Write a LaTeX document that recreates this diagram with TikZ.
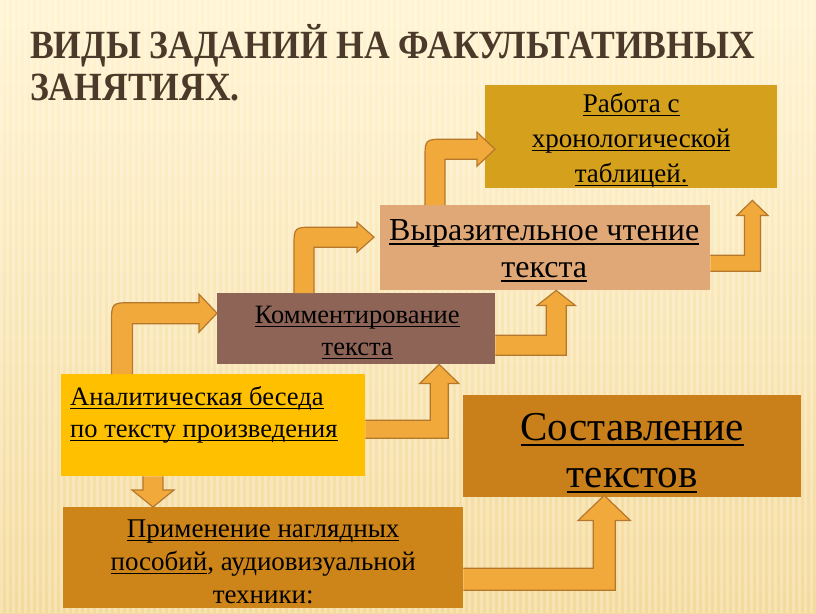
\documentclass[tikz,border=0pt]{standalone}
\usepackage{fontspec}
\setmainfont{Liberation Serif}
\newfontfamily\titlefont[FakeStretch=0.89]{Liberation Serif}
\usetikzlibrary{calc}

\definecolor{bgtop}{HTML}{FFF4D2}
\definecolor{bgbot}{HTML}{F4DA9C}
\definecolor{titlecol}{HTML}{4B3A2A}
\definecolor{arrfill}{HTML}{F2A93B}
\definecolor{arrline}{HTML}{B5772C}
\definecolor{anacol}{HTML}{FFC000}
\definecolor{komcol}{HTML}{8E6457}
\definecolor{vyrcol}{HTML}{E1A877}
\definecolor{rabcol}{HTML}{D5A11C}
\definecolor{sostcol}{HTML}{C97F1A}
\definecolor{primcol}{HTML}{CD8419}

\newcommand\fsz[2]{\fontsize{#1}{#2}\selectfont}
\newcommand\uln[1]{\leavevmode\setbox0\hbox{#1}\rlap{\rule[-0.13em]{\wd0}{0.05em}}\box0}

% bent block arrow: up from #1, then right to the tip #2
\newcommand\uparrright[5]{%
\filldraw[blockarrow] let \p1=(#1), \p2=(#2) in
  ({\x1-#3},\y1) -- ({\x1-#3},{\y2-#3})
  .. controls ({\x1-#3},{\y2+#3}) .. ({\x1+#3},{\y2+#3})
  -- ({\x2-#5},{\y2+#3}) -- ({\x2-#5},{\y2+#4}) -- (\x2,\y2)
  -- ({\x2-#5},{\y2-#4}) -- ({\x2-#5},{\y2-#3})
  -- ({\x1+#3},{\y2-#3}) -- ({\x1+#3},\y1);
}
% right from #1, then up to the tip #2
\newcommand\rightarrup[5]{%
\filldraw[blockarrow] let \p1=(#1), \p2=(#2) in
  (\x1,{\y1+#3}) -- ({\x2-#3},{\y1+#3}) -- ({\x2-#3},{\y2-#5})
  -- ({\x2-#4},{\y2-#5}) -- (\x2,\y2) -- ({\x2+#4},{\y2-#5})
  -- ({\x2+#3},{\y2-#5}) -- ({\x2+#3},{\y1-#3}) -- (\x1,{\y1-#3});
}
% straight down from #1 to the tip #2
\newcommand\downarr[5]{%
\filldraw[blockarrow] let \p1=(#1), \p2=(#2) in
  ({\x1-#3},\y1) -- ({\x1-#3},{\y2+#5}) -- ({\x1-#4},{\y2+#5})
  -- (\x2,\y2) -- ({\x1+#4},{\y2+#5}) -- ({\x1+#3},{\y2+#5})
  -- ({\x1+#3},\y1);
}

\begin{document}
\begin{tikzpicture}[x=1pt,y=-1pt,
  box/.style={anchor=north west, inner sep=0pt},
  boxtext/.style={inner sep=0pt, align=center, text=black},
  titletext/.style={anchor=base west, inner sep=0pt, text=titlecol,
    font=\titlefont\bfseries\fsz{40}{40}},
  blockarrow/.style={fill=arrfill, draw=arrline, line width=1.2pt, line join=miter}]

	%% background
	\useasboundingbox (0,0) rectangle (816,613);
	\shade[top color=bgtop, bottom color=bgbot] (0,0) rectangle (816,613);
	\foreach \sx in {0,6,...,810}
		\fill[white, opacity=0.25] (\sx,0) rectangle ++(2.5,613);

	\node[titletext] (title1) at (30,58) {ВИДЫ ЗАДАНИЙ НА ФАКУЛЬТАТИВНЫХ};
	\node[titletext] (title2) at (30,100) {ЗАНЯТИЯХ.};

	%% boxes
	\node[box, fill=anacol, minimum width=304pt, minimum height=102pt] (ana) at (61,374) {};
	\node[box, fill=komcol, minimum width=278pt, minimum height=71pt] (kom) at (217,293) {};
	\node[box, fill=vyrcol, minimum width=330pt, minimum height=85pt] (vyr) at (380,205) {};
	\node[box, fill=rabcol, minimum width=292pt, minimum height=103pt] (rab) at (485,85) {};
	\node[box, fill=sostcol, minimum width=338pt, minimum height=102pt] (sost) at (463,395) {};
	\node[box, fill=primcol, minimum width=400pt, minimum height=101pt] (prim) at (63,507) {};

	%% texts
	\node[boxtext, anchor=west, align=left, font=\fsz{26.5}{32}] (anatext)
		at ($(ana.north west)+(9,41)$)
		{\uln{Аналитическая беседа}\\\uln{по тексту произведения}};
	\node[boxtext, font=\fsz{26.5}{32}] (komtext) at ($(kom.center)+(1,4)$)
		{\uln{Комментирование}\\\uln{текста}};
	\node[boxtext, font=\fsz{32}{37}] (vyrtext) at ($(vyr.center)+(-1,3.3)$)
		{\uln{Выразительное чтение}\\\uln{текста}};
	\node[boxtext, font=\fsz{27}{35}] (rabtext) at ($(rab.center)+(0,4)$)
		{\uln{Работа с}\\\uln{хронологической}\\\uln{таблицей.}};
	\node[boxtext, font=\fsz{41}{47}] (sosttext) at ($(sost.center)+(0,7)$)
		{\uln{Составление}\\\uln{текстов}};
	\node[boxtext, font=\fsz{27}{33}] (primtext) at ($(prim.center)+(0,4.5)$)
		{\uln{Применение наглядных}\\\uln{пособий}, аудиовизуальной\\техники:};

	%% arrows
	\uparrright{$(ana.north west)+(61,0)$}{$(kom.west)+(0,-15.5)$}{10.5pt}{19pt}{18pt}
	\rightarrup{$(ana.east)+(0,4)$}{$(kom.south)+(83,0)$}{9pt}{19.5pt}{19pt}
	\uparrright{$(kom.north west)+(87,0)$}{$(vyr.west)+(-6,-10.5)$}{10pt}{15pt}{17pt}
	\rightarrup{$(kom.east)+(0,16.5)$}{$(vyr.south)+(11,0)$}{10pt}{19pt}{15pt}
	\uparrright{$(vyr.north west)+(55,0)$}{$(rab.west)+(10,12.5)$}{10pt}{17pt}{18pt}
	\rightarrup{$(vyr.east)+(0,15.5)$}{$(rab.south east)+(-25,12)$}{8pt}{15.5pt}{15pt}
	\downarr{$(ana.south west)+(92,0)$}{$(prim.north west)+(90,0)$}{10pt}{21pt}{17pt}
	\rightarrup{$(prim.east)+(0,21.5)$}{$(sost.south)+(-28,-2)$}{11pt}{26pt}{25pt}

\end{tikzpicture}
\end{document}
